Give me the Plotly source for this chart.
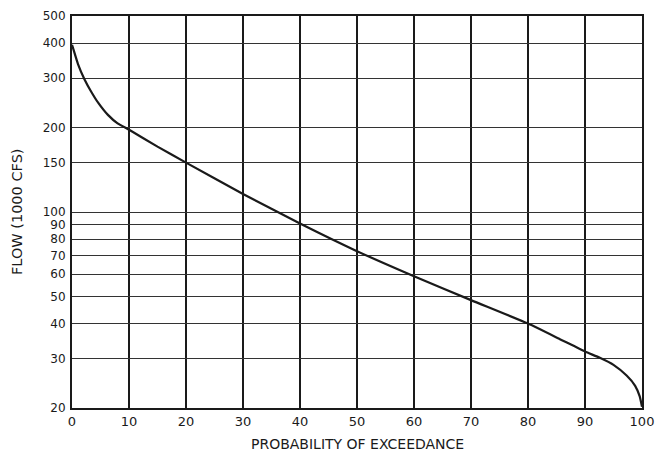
import plotly.graph_objects as go

prob = [0, 0.17, 1.05, 2.2, 3.4, 4.55, 6.3, 8.0, 10.1, 15, 20, 30, 40, 50, 60, 70, 80,
        85.6, 90, 92.6, 95, 97.3, 98.8, 99.6, 100]
flow = [395, 385, 337, 297, 268, 246, 222, 207, 196, 171, 150, 116, 91, 72.5, 59, 48.5, 40,
        35.2, 31.8, 30.2, 28.5, 26.1, 24, 22, 20.2]

y_ticks = [20, 30, 40, 50, 60, 70, 80, 90, 100, 150, 200, 300, 400, 500]
x_ticks = [0, 10, 20, 30, 40, 50, 60, 70, 80, 90, 100]

x_title = "PROBABILITY OF EXCEEDANCE"
y_title = "FLOW (1000 CFS)"

ink = "#1a1a1a"

fig = go.Figure()
fig.add_trace(go.Scatter(
    x=prob, y=flow, mode="lines",
    line=dict(color=ink, width=2.2, shape="spline", smoothing=0.5),
    hoverinfo="skip", showlegend=False,
))

fig.update_layout(
    width=655, height=454,
    margin=dict(l=72, r=13, t=16, b=46, autoexpand=False),
    paper_bgcolor="white", plot_bgcolor="white",
    font=dict(family="DejaVu Sans, Arial, sans-serif", color=ink, size=12),
    annotations=[
        dict(text=x_title, xref="paper", yref="paper", x=0.5, y=0,
             xanchor="center", yanchor="middle", yshift=-36, showarrow=False,
             font=dict(size=14, color=ink)),
        dict(text=y_title, xref="paper", yref="paper", x=0, y=0.5,
             xanchor="center", yanchor="middle", xshift=-55, textangle=-90,
             showarrow=False, font=dict(size=14.5, color=ink)),
    ],
)
fig.update_xaxes(
    range=[0, 100], tickvals=x_ticks, ticktext=[str(v) for v in x_ticks],
    showgrid=True, gridcolor=ink, gridwidth=2,
    showline=True, linecolor=ink, linewidth=2, mirror=True,
    ticks="", zeroline=False, tickfont=dict(size=13), automargin=False,
)
fig.update_yaxes(
    type="log", range=[1.30103, 2.69897],
    tickvals=y_ticks, ticktext=[str(v) for v in y_ticks],
    showgrid=True, gridcolor="#333333", gridwidth=1.4,
    showline=True, linecolor=ink, linewidth=2, mirror=True,
    ticks="", zeroline=False, tickfont=dict(size=12), automargin=False,
    ticklabelstandoff=2,
)

fig.write_html("out.html")
